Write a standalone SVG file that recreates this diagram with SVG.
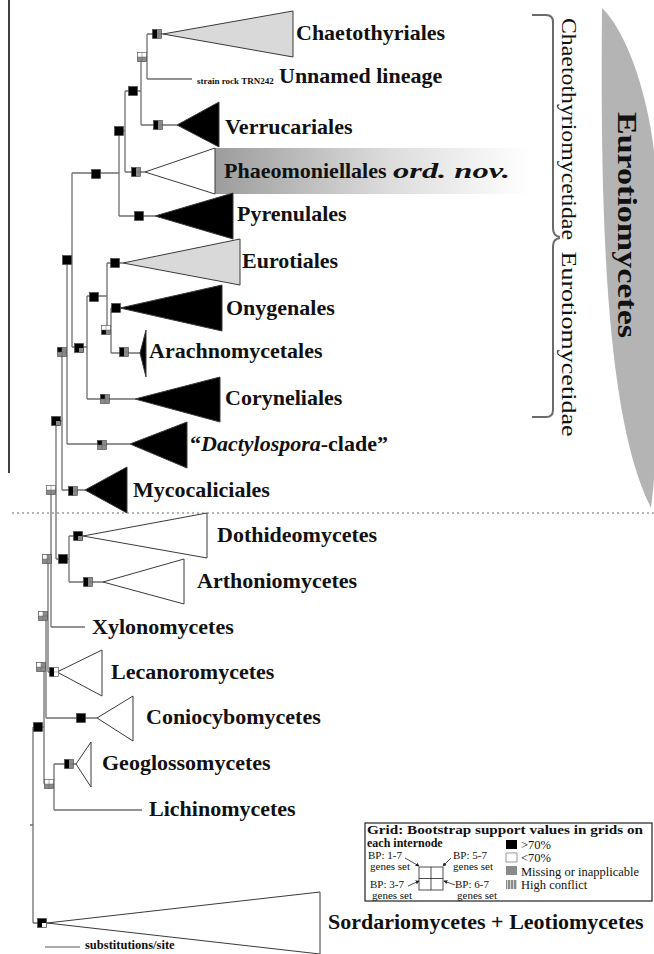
<svg xmlns="http://www.w3.org/2000/svg" width="654" height="954" viewBox="0 0 654 954">
<defs>
<style>
.br{fill:none;stroke:#6f6f6f;stroke-width:1.3}
.tri{stroke:#3a3a3a;stroke-width:1;stroke-linejoin:miter}
.lbl{font-family:'Liberation Serif','Times New Roman',serif;font-weight:bold;font-size:22px;fill:#111}
.it{font-style:italic}
.sm{font-family:'Liberation Serif','Times New Roman',serif;font-weight:bold;font-size:9px;fill:#111}
.leg{font-family:'Liberation Serif','Times New Roman',serif;font-size:11px;fill:#111}
.legi{font-family:'Liberation Serif','Times New Roman',serif;font-size:12.5px;fill:#111}
.legb{font-family:'Liberation Serif','Times New Roman',serif;font-size:12px;font-weight:bold;fill:#111}
.rot{font-family:'Liberation Serif','Times New Roman',serif;font-size:20px;fill:#111}
.big{font-family:'Liberation Serif','Times New Roman',serif;font-size:28px;font-weight:bold;fill:#111}
.scl{font-family:'Liberation Serif','Times New Roman',serif;font-size:12.5px;font-weight:bold;fill:#111}
.out{fill:none;stroke:#444;stroke-width:0.6}
.gl{fill:none;stroke:#666;stroke-width:0.5}
.k{fill:#000}.g{fill:#8a8a8a}.w{fill:#fff}
</style>
<linearGradient id="phgrad" x1="0" y1="0" x2="1" y2="0">
<stop offset="0" stop-color="#9c9c9c"/>
<stop offset="0.55" stop-color="#dcdcdc"/>
<stop offset="1" stop-color="#ffffff"/>
</linearGradient>
<pattern id="hatch" width="3" height="10" patternUnits="userSpaceOnUse">
<rect width="3" height="10" fill="#8a8a8a"/><rect width="1" height="10" fill="#d6d6d6"/>
</pattern>
<marker id="ah" viewBox="0 0 6 6" refX="5" refY="3" markerWidth="5" markerHeight="5" orient="auto">
<path d="M0,0 L6,3 L0,6 Z" fill="#222"/>
</marker>
<g id="q-bbbb"><rect x="-4.5" y="-4.5" width="9" height="9" class="k"/><rect x="-4.5" y="-4.5" width="9" height="9" class="out"/></g>
<g id="q-bgbg"><rect x="-4.5" y="-4.5" width="4.5" height="9" class="k"/><rect x="0" y="-4.5" width="4.5" height="9" class="g"/><path d="M0,0H4.5" class="gl"/><rect x="-4.5" y="-4.5" width="9" height="9" class="out"/></g>
<g id="q-wwgg"><rect x="-4.5" y="-4.5" width="9" height="4.5" class="w"/><rect x="-4.5" y="0" width="9" height="4.5" class="g"/><path d="M0,-4.5V4.5M-4.5,0H4.5" class="gl"/><rect x="-4.5" y="-4.5" width="9" height="9" class="out"/></g>
<g id="q-wggg"><rect x="-4.5" y="-4.5" width="9" height="9" class="g"/><rect x="-4.5" y="-4.5" width="4.5" height="4.5" class="w"/><path d="M0,-4.5V4.5M-4.5,0H4.5" class="gl"/><rect x="-4.5" y="-4.5" width="9" height="9" class="out"/></g>
<g id="q-wwbg"><rect x="-4.5" y="-4.5" width="9" height="4.5" class="w"/><rect x="-4.5" y="0" width="4.5" height="4.5" class="k"/><rect x="0" y="0" width="4.5" height="4.5" class="g"/><path d="M0,-4.5V4.5M-4.5,0H4.5" class="gl"/><rect x="-4.5" y="-4.5" width="9" height="9" class="out"/></g>
<g id="q-bbbg"><rect x="-4.5" y="-4.5" width="9" height="9" class="k"/><rect x="0" y="0" width="4.5" height="4.5" class="g"/><rect x="-4.5" y="-4.5" width="9" height="9" class="out"/></g>
<g id="q-bggg"><rect x="-4.5" y="-4.5" width="9" height="9" class="g"/><rect x="-4.5" y="-4.5" width="4.5" height="4.5" class="k"/><path d="M0,-4.5V4.5M-4.5,0H4.5" class="gl"/><rect x="-4.5" y="-4.5" width="9" height="9" class="out"/></g>
<g id="q-bwbw"><rect x="-4.5" y="-4.5" width="4.5" height="9" class="k"/><rect x="0" y="-4.5" width="4.5" height="9" class="w"/><path d="M0,0H4.5" class="gl"/><rect x="-4.5" y="-4.5" width="9" height="9" class="out"/></g>
<g id="q-bbbw"><rect x="-4.5" y="-4.5" width="9" height="9" class="k"/><rect x="0" y="0" width="4.5" height="4.5" class="w"/><rect x="-4.5" y="-4.5" width="9" height="9" class="out"/></g>
</defs>
<rect width="654" height="954" fill="#fff"/>

<g id="decor">
<path id="euro-crescent" d="M602,8 C600,220 606,420 651,508 C662,420 662,250 655,160 C648,90 625,30 602,8 Z" fill="#b4b4b4"/>
<text class="big" text-anchor="middle" dominant-baseline="central" textLength="226" lengthAdjust="spacingAndGlyphs" transform="translate(627,225) rotate(90)">Eurotiomycetes</text>
<path d="M532,15 H546 Q553,15 553,22 V228 Q553,236 560,237" fill="none" stroke="#6a6a6a" stroke-width="2"/>
<path d="M560,238 Q553,239 553,246 V410 Q553,417 546,417 H532" fill="none" stroke="#6a6a6a" stroke-width="2"/>
<text class="rot" text-anchor="middle" dominant-baseline="central" textLength="222" lengthAdjust="spacingAndGlyphs" transform="translate(569,129) rotate(90)">Chaetothyriomycetidae</text>
<text class="rot" text-anchor="middle" dominant-baseline="central" textLength="185" lengthAdjust="spacingAndGlyphs" transform="translate(569,344) rotate(90)">Eurotiomycetidae</text>
<path d="M9,0 V473" stroke="#000" stroke-width="1.5"/>
<path d="M12,513 H654" stroke="#9a9a9a" stroke-width="1.5" stroke-dasharray="2 3"/>
<rect x="215" y="148" width="315" height="46" fill="url(#phgrad)"/>
</g>

<g id="connectors">
<path class="br" d="M147,34V79 M147,34H163 M147,79H192 M141,57H147 M141,57V125 M141,125H177 M125,91H141 M125,91V172 M125,172H145 M119,131H125 M119,131V216 M119,216H155 M72,173H119 M72,173V347"/>
<path class="br" d="M72,347H87 M87,296V399 M87,296H107 M107,263V330 M107,263H123 M107,330H111 M111,308V353 M111,308H120 M111,353H140 M87,399H135"/>
<path class="br" d="M67,260H72 M67,260V444 M67,444H130 M62,352H67 M62,352V490 M62,490H85 M56,421H62 M56,421V559 M56,559H69 M69,536V582 M69,536H83 M69,582H103"/>
<path class="br" d="M51,490H56 M51,490V627 M51,627H85 M48,559H51 M48,559V672 M48,672H57 M46,616H48 M46,616V718 M46,718H97 M44,667H46 M44,667V784 M44,784H54 M54,764V810 M54,764H76 M54,810H142 M33,727H44 M33,727V923 M33,923H47 M30,825H33"/>
</g>

<g id="leaf-chaetothyriales"><polygon class="tri" points="163,34 293,11 293,57" fill="#d9d9d9"/><text class="lbl" x="296" y="40">Chaetothyriales</text></g>
<g id="leaf-unnamed"><text class="sm" x="197" y="84">strain rock TRN242</text><text class="lbl" x="279" y="83">Unnamed lineage</text></g>
<g id="leaf-verrucariales"><polygon class="tri" points="177,125 219,102 219,147" fill="#000"/><text class="lbl" x="225" y="134">Verrucariales</text></g>
<g id="leaf-phaeomoniellales"><polygon class="tri" points="145,172 215,148 215,194" fill="#fff" stroke="#555"/><text class="lbl" x="224" y="178">Phaeomoniellales</text><text class="lbl it" x="393" y="178" textLength="117" lengthAdjust="spacingAndGlyphs">ord. nov.</text></g>
<g id="leaf-pyrenulales"><polygon class="tri" points="155,216 233,193 233,239" fill="#000"/><text class="lbl" x="237" y="221">Pyrenulales</text></g>
<g id="leaf-eurotiales"><polygon class="tri" points="123,263 240,239 240,285" fill="#d9d9d9"/><text class="lbl" x="242" y="268">Eurotiales</text></g>
<g id="leaf-onygenales"><polygon class="tri" points="120,308 222,285 222,331" fill="#000"/><text class="lbl" x="226" y="315">Onygenales</text></g>
<g id="leaf-arachnomycetales"><polygon class="tri" points="140,353 146,330 146,377" fill="#000"/><text class="lbl" x="149" y="358">Arachnomycetales</text></g>
<g id="leaf-coryneliales"><polygon class="tri" points="135,399 220,377 220,422" fill="#000"/><text class="lbl" x="225" y="405">Coryneliales</text></g>
<g id="leaf-dactylospora"><polygon class="tri" points="130,444 187,422 187,468" fill="#000"/><text class="lbl" x="190" y="451">“<tspan class="it">Dactylospora</tspan>-clade”</text></g>
<g id="leaf-mycocaliciales"><polygon class="tri" points="85,490 127,467 127,513" fill="#000"/><text class="lbl" x="133" y="497">Mycocaliciales</text></g>
<g id="leaf-dothideomycetes"><polygon class="tri" points="83,536 207,513 207,558" fill="#fff" stroke="#555"/><text class="lbl" x="217" y="542">Dothideomycetes</text></g>
<g id="leaf-arthoniomycetes"><polygon class="tri" points="103,582 184,559 184,604" fill="#fff" stroke="#555"/><text class="lbl" x="197" y="588">Arthoniomycetes</text></g>
<g id="leaf-xylonomycetes"><text class="lbl" x="92" y="634">Xylonomycetes</text></g>
<g id="leaf-lecanoromycetes"><polygon class="tri" points="57,672 102,650 102,696" fill="#fff" stroke="#555"/><text class="lbl" x="111" y="679">Lecanoromycetes</text></g>
<g id="leaf-coniocybomycetes"><polygon class="tri" points="97,718 133,696 133,741" fill="#fff" stroke="#555"/><text class="lbl" x="146" y="724">Coniocybomycetes</text></g>
<g id="leaf-geoglossomycetes"><polygon class="tri" points="76,764 91,742 91,787" fill="#fff" stroke="#555"/><text class="lbl" x="102" y="770">Geoglossomycetes</text></g>
<g id="leaf-lichinomycetes"><text class="lbl" x="149" y="816">Lichinomycetes</text></g>
<g id="leaf-sordariomycetes"><polygon class="tri" points="47,923 320,892 320,954" fill="#fff" stroke="#444"/><text class="lbl" x="328" y="929">Sordariomycetes + Leotiomycetes</text></g>

<g id="node-squares">
<use href="#q-bgbg" x="157" y="34"/>
<use href="#q-wwgg" x="142" y="57"/>
<use href="#q-bbbb" x="133" y="91"/>
<use href="#q-bgbg" x="158" y="125"/>
<use href="#q-bbbb" x="119" y="131"/>
<use href="#q-bgbg" x="136" y="172"/>
<use href="#q-bbbb" x="139" y="216"/>
<use href="#q-bbbb" x="96" y="174"/>
<use href="#q-bbbb" x="67" y="260"/>
<use href="#q-bbbb" x="115" y="263"/>
<use href="#q-bbbb" x="94" y="297"/>
<use href="#q-bbbb" x="116" y="308"/>
<use href="#q-wwbg" x="106" y="330"/>
<use href="#q-bbbg" x="79" y="348"/>
<use href="#q-bgbg" x="124" y="352"/>
<use href="#q-bggg" x="62" y="352"/>
<use href="#q-bggg" x="105" y="399"/>
<use href="#q-bggg" x="102" y="445"/>
<use href="#q-bbbg" x="56" y="421"/>
<use href="#q-bgbg" x="73" y="491"/>
<use href="#q-wwgg" x="51" y="490"/>
<use href="#q-bbbg" x="78" y="536"/>
<use href="#q-bbbb" x="63" y="559"/>
<use href="#q-bgbg" x="88" y="582"/>
<use href="#q-wggg" x="47" y="559"/>
<use href="#q-wggg" x="43" y="616"/>
<use href="#q-bwbw" x="54" y="672"/>
<use href="#q-wggg" x="41" y="667"/>
<use href="#q-bbbb" x="81" y="718"/>
<use href="#q-bbbb" x="38" y="727"/>
<use href="#q-wwgg" x="49" y="784"/>
<use href="#q-bgbg" x="69" y="764"/>
<use href="#q-bbbw" x="42" y="923"/>
</g>

<g id="legend">
<rect x="365" y="823" width="287" height="78" fill="#fff" stroke="#222" stroke-width="1.2"/>
<text class="legb" x="367" y="834" textLength="276" lengthAdjust="spacingAndGlyphs">Grid: Bootstrap support values in grids on</text>
<text class="legb" x="367" y="846.5">each internode</text>
<rect x="506" y="840" width="11" height="9" fill="#000"/>
<rect x="506" y="853" width="11" height="9" fill="#fff" stroke="#555" stroke-width="0.6"/>
<rect x="506" y="866" width="11" height="9" fill="#8a8a8a"/>
<rect x="506" y="880" width="11" height="9" fill="url(#hatch)"/>
<text class="legi" x="521" y="849">&gt;70%</text>
<text class="legi" x="521" y="862">&lt;70%</text>
<text class="legi" x="521" y="875.5">Missing or inapplicable</text>
<text class="legi" x="521" y="889">High conflict</text>
<text class="leg" x="368" y="859">BP: 1-7</text>
<text class="leg" x="370" y="869.5">genes set</text>
<text class="leg" x="453" y="859">BP: 5-7</text>
<text class="leg" x="453" y="869.5">genes set</text>
<text class="leg" x="370" y="888">BP: 3-7</text>
<text class="leg" x="372" y="899">genes set</text>
<text class="leg" x="455" y="888">BP: 6-7</text>
<text class="leg" x="457" y="899">genes set</text>
<rect x="419" y="867" width="24" height="23" fill="#fff" stroke="#222" stroke-width="0.8"/>
<path d="M431,867V890 M419,878.5H443" stroke="#222" stroke-width="0.8"/>
<path d="M405,858 L419,866" stroke="#222" stroke-width="0.8" marker-end="url(#ah)"/>
<path d="M451,858 L443,866" stroke="#222" stroke-width="0.8" marker-end="url(#ah)"/>
<path d="M408,886 L419,881" stroke="#222" stroke-width="0.8" marker-end="url(#ah)"/>
<path d="M455,885 L444,881" stroke="#222" stroke-width="0.8" marker-end="url(#ah)"/>
</g>

<g id="scale">
<path d="M45,947 H80" stroke="#555" stroke-width="1"/>
<text class="scl" x="85" y="949">substitutions/site</text>
</g>
</svg>
